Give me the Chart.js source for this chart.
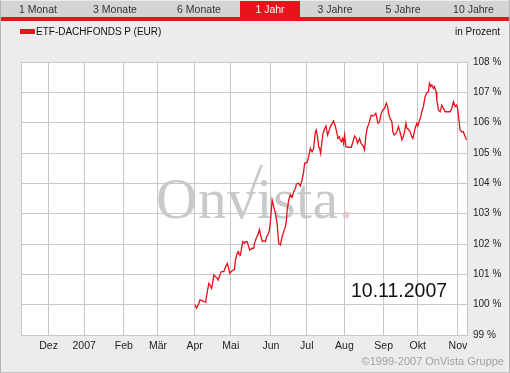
<!DOCTYPE html>
<html lang="de">
<head>
    <meta charset="UTF-8">
    <title>ETF-DACHFONDS P (EUR) - 1 Jahr</title>
    <script src="https://cdn.jsdelivr.net/npm/chart.js"></script>
    <style>
        body {
            margin: 0;
            background: #ececec;
            font-family: "Liberation Sans", Arial, sans-serif;
        }
        .box {
            position: relative;
            width: 508px;
            height: 372px;
            background: #ececec;
            border-left: 1px solid #b4b4b4;
            border-right: 1px solid #b4b4b4;
            border-bottom: 1px solid #c4c4c4;
            overflow: hidden;
        }
        .tabs {
            position: absolute;
            left: 0;
            top: 1px;
            width: 508px;
            height: 16px;
            background: #d4d4d4;
        }
        .tab {
            position: absolute;
            top: 0;
            height: 16px;
            line-height: 16px;
            font-size: 10.5px;
            color: #333;
            text-align: center;
        }
        .tab.active {
            background: #e8141b;
            color: #fff;
        }
        .band {
            position: absolute;
            left: 0;
            top: 17px;
            width: 508px;
            height: 4px;
            background: #e8141b;
        }
        .legend {
            position: absolute;
            left: 19px;
            top: 26px;
            font-size: 10px;
            color: #111;
            line-height: 12px;
        }
        .legend i {
            display: inline-block;
            width: 15px;
            height: 5px;
            background: #e8141b;
            margin-right: 1px;
            vertical-align: 1px;
        }
        .unit {
            position: absolute;
            right: 9px;
            top: 26px;
            font-size: 10px;
            color: #111;
            line-height: 12px;
        }
        .copy {
            position: absolute;
            right: 5px;
            top: 355px;
            font-size: 11px;
            color: #a0a0a0;
        }
        canvas {
            position: absolute;
            left: -1px;
            top: 0;
        }
    </style>
</head>
<body>
    <div class="box">
        <canvas id="fundChart" width="510" height="373"></canvas>
        <div class="tabs">
            <div class="tab" style="left:0;width:74px">1 Monat</div>
            <div class="tab" style="left:76px;width:76px">3 Monate</div>
            <div class="tab" style="left:160px;width:76px">6 Monate</div>
            <div class="tab active" style="left:239px;width:60px">1 Jahr</div>
            <div class="tab" style="left:301px;width:66px">3 Jahre</div>
            <div class="tab" style="left:369px;width:66px">5 Jahre</div>
            <div class="tab" style="left:437px;width:71px">10 Jahre</div>
        </div>
        <div class="band"></div>
        <div class="legend"><i></i>ETF-DACHFONDS P (EUR)</div>
        <div class="unit">in Prozent</div>
        <div class="copy">©1999-2007 OnVista Gruppe</div>
    </div>
    <script>
        // x = days since 10.11.2006 (chart scale), y = value in percent of start
        const monthLabels = ['Dez', '2007', 'Feb', 'Mär', 'Apr', 'Mai', 'Jun', 'Jul', 'Aug', 'Sep', 'Okt', 'Nov'];
        const monthDays = [22.6, 51.7, 84.1, 112.1, 142.1, 171.7, 204.5, 233.9, 264.7, 296.8, 324.6, 357.6];
        const yTicks = [99, 100, 101, 102, 103, 104, 105, 106, 107, 108];

        const days = [
            142.3, 143.7, 145.6, 146.4, 148.4, 149.7, 151.1, 151.9, 153.7, 154.6,
            156.0, 156.8, 157.8, 159.2, 160.6, 161.4, 162.8, 163.9, 166.0, 167.4,
            168.8, 169.6, 170.9, 172.0, 173.7, 174.7, 175.5, 176.9, 177.7, 178.2,
            179.6, 180.2, 181.5, 182.9, 183.7, 185.1, 185.9, 187.2, 189.2, 190.5,
            191.1, 192.5, 193.8, 195.2, 196.0, 196.8, 197.4, 198.7, 200.1, 200.9,
            202.1, 203.3, 204.1, 205.5, 206.8, 208.2, 209.6, 210.9, 212.3, 213.7,
            215.0, 216.4, 217.2, 217.8, 219.1, 220.5, 221.9, 223.2, 224.6, 225.4,
            227.3, 228.6, 230.0, 231.3, 232.1, 234.1, 235.4, 236.8, 238.2, 239.5,
            240.9, 241.7, 242.8, 243.6, 244.4, 245.2, 245.8, 247.2, 248.5, 249.6,
            250.9, 252.3, 253.1, 254.5, 255.8, 257.2, 258.6, 259.4, 260.5, 261.3,
            262.1, 263.2, 264.0, 264.8, 265.9, 267.6, 270.3, 271.3, 273.0, 274.4,
            275.4, 277.1, 278.2, 279.5, 280.3, 281.1, 282.3, 283.6, 284.4, 285.8,
            286.6, 288.0, 289.3, 290.4, 292.1, 293.4, 294.8, 296.2, 297.5, 298.9,
            300.0, 300.8, 302.1, 303.5, 304.3, 305.4, 306.8, 307.6, 308.9, 309.7,
            310.9, 311.7, 313.0, 313.9, 315.0, 315.8, 317.1, 318.5, 319.8, 320.7,
            321.7, 322.5, 323.9, 324.7, 325.8, 327.2, 328.0, 329.3, 330.7, 332.1,
            333.4, 334.3, 335.4, 336.2, 337.5, 338.3, 339.7, 340.3, 341.6, 343.0,
            344.4, 345.7, 347.1, 351.2, 352.5, 353.9, 355.3, 356.6, 357.5, 358.7,
            359.3, 360.7, 362.0, 363.3, 364.7
        ];
        const values = [
            100.00, 99.88, 100.05, 100.15, 100.13, 100.10, 100.08, 100.29, 100.70, 100.65,
            100.54, 100.70, 100.98, 100.92, 100.87, 100.81, 100.98, 101.09, 101.09, 101.25,
            101.36, 101.25, 101.03, 101.09, 101.14, 101.16, 101.47, 101.69, 101.75, 101.69,
            101.64, 101.80, 102.08, 102.02, 102.08, 102.08, 101.97, 101.80, 101.86, 101.86,
            102.02, 102.19, 102.30, 102.48, 102.30, 102.19, 102.08, 102.11, 102.08, 102.24,
            102.30, 102.46, 102.73, 103.45, 103.23, 103.01, 102.68, 102.02, 101.97, 102.24,
            102.41, 102.57, 102.79, 103.12, 103.45, 103.62, 103.54, 103.72, 103.84, 103.98,
            104.00, 103.91, 104.11, 104.38, 104.66, 104.69, 104.88, 105.15, 105.04, 105.15,
            105.70, 105.76, 105.48, 105.21, 105.15, 104.99, 105.21, 105.65, 105.81, 105.89,
            105.59, 105.76, 105.87, 105.96, 106.06, 105.89, 105.65, 105.48, 105.54, 105.43,
            105.37, 105.48, 105.32, 105.59, 105.21, 105.19, 105.19, 105.32, 105.56, 105.48,
            105.32, 105.48, 105.32, 105.26, 105.21, 105.10, 105.59, 105.87, 105.92, 106.14,
            106.25, 106.22, 106.25, 106.31, 105.98, 106.03, 106.31, 106.42, 106.47, 106.64,
            106.53, 106.31, 106.14, 106.03, 105.70, 105.59, 105.65, 105.70, 105.87, 105.76,
            105.59, 105.43, 105.54, 105.70, 105.98, 105.81, 105.78, 105.70, 105.54, 105.48,
            105.65, 105.81, 105.98, 105.89, 106.03, 106.20, 106.36, 106.53, 106.86, 106.99,
            107.02, 107.30, 107.19, 107.24, 107.13, 107.19, 107.02, 106.75, 106.42, 106.36,
            106.58, 106.47, 106.36, 106.36, 106.47, 106.69, 106.53, 106.58, 106.42, 105.98,
            105.76, 105.70, 105.70, 105.56, 105.43
        ];
        const xMin = 0, xMax = 365;
        const dateText = '10.11.2007';

        const gridColor = '#c8c8c8';

        // white plot area and the OnVista watermark, under the grid
        const backdrop = {
            id: 'backdrop',
            beforeDraw(chart) {
                const c = chart.ctx, a = chart.chartArea;
                const x0 = a.left + 135, base = a.top + 156;
                c.save();
                c.fillStyle = '#fff';
                c.fillRect(a.left, a.top, a.right - a.left, a.bottom - a.top);
                c.font = '57px "Liberation Serif", "Times New Roman", serif';
                c.letterSpacing = '0.8px';
                c.textBaseline = 'alphabetic';
                c.fillStyle = '#c9c9c9';
                c.fillText('Onvista', x0, base);
                const wOn = c.measureText('Onv').width;
                const w = c.measureText('Onvista').width;
                // long right stroke of the "v"
                c.strokeStyle = '#c9c9c9';
                c.lineWidth = 2.5;
                c.beginPath();
                c.moveTo(x0 + wOn - 7, base - 22);
                c.lineTo(x0 + wOn + 5, base - 53);
                c.stroke();
                c.fillStyle = '#f2cccc';
                c.fillText('.', x0 + w, base);
                c.restore();
            },
            // date stamp over the grid, under the line
            beforeDatasetsDraw(chart) {
                const c = chart.ctx, a = chart.chartArea;
                c.save();
                c.font = '19.5px "Liberation Sans", Arial, sans-serif';
                c.textBaseline = 'alphabetic';
                c.fillStyle = '#111';
                c.fillText(dateText, a.left + 330, a.top + 235);
                c.restore();
            }
        };

        const ctx = document.getElementById('fundChart').getContext('2d');
        new Chart(ctx, {
            type: 'line',
            data: {
                datasets: [{
                    data: days.map((d, i) => ({ x: d, y: values[i] })),
                    borderColor: '#e8101a',
                    borderWidth: 1.3,
                    pointRadius: 0,
                    tension: 0,
                    fill: false
                }]
            },
            options: {
                responsive: false,
                animation: false,
                layout: { padding: { left: 21, top: 62, right: 0, bottom: 0 } },
                plugins: { legend: { display: false }, tooltip: { enabled: false } },
                scales: {
                    x: {
                        type: 'linear',
                        min: xMin,
                        max: xMax,
                        afterBuildTicks(scale) {
                            scale.ticks = [xMin, ...monthDays, xMax].map(v => ({ value: v }));
                        },
                        afterFit(scale) { scale.height = 38; },
                        grid: { color: gridColor, drawTicks: false },
                        border: { color: gridColor },
                        ticks: {
                            autoSkip: false,
                            maxRotation: 0,
                            padding: 5,
                            color: '#222',
                            font: { family: '"Liberation Sans", Arial, sans-serif', size: 10.5 },
                            callback(v) {
                                const i = monthDays.indexOf(v);
                                return i >= 0 ? monthLabels[i] : '';
                            }
                        }
                    },
                    y: {
                        position: 'right',
                        min: yTicks[0],
                        max: yTicks[yTicks.length - 1],
                        afterBuildTicks(scale) {
                            scale.ticks = yTicks.map(v => ({ value: v }));
                        },
                        afterFit(scale) { scale.width = 43; },
                        grid: { color: gridColor, drawTicks: false },
                        border: { color: gridColor },
                        ticks: {
                            padding: 6,
                            color: '#222',
                            font: { family: '"Liberation Sans", Arial, sans-serif', size: 10 },
                            callback: v => v + ' %'
                        }
                    }
                }
            },
            plugins: [backdrop]
        });
    </script>
</body>
</html>
